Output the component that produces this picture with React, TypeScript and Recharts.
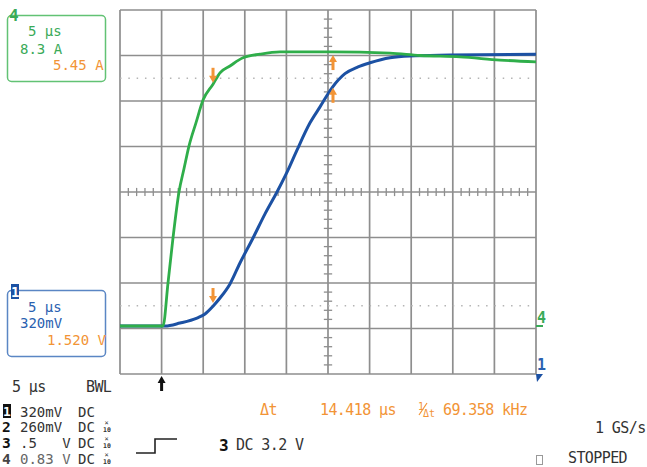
import { LineChart, Line, XAxis, YAxis, ReferenceLine, ReferenceDot } from 'recharts';

// time in µs (5 µs/div), level in screen divisions from the bottom edge
const CH4_TIME = [0, 5.17, 5.77, 6.37, 7.09, 7.69, 8.29, 9.13, 9.98, 11.18, 12.02, 13.22, 14.78, 16.83, 19.23, 25.24, 32.45, 36.06, 40.87, 45.67, 50];
const CH4_LEVEL = [1.055, 1.055, 2.0, 2.99, 4.0, 4.51, 5.01, 5.52, 6.02, 6.37, 6.62, 6.77, 6.95, 7.03, 7.08, 7.08, 7.05, 7.0, 6.97, 6.9, 6.86];

const CH1_TIME = [0, 5.41, 7.21, 9.25, 10.22, 11.18, 12.02, 13.22, 14.42, 15.99, 17.43, 18.87, 20.19, 21.27, 22.84, 24.04, 25.48, 27.04, 28.61, 30.05, 32.45, 34.86, 39.66, 50];
const CH1_LEVEL = [1.055, 1.055, 1.12, 1.23, 1.32, 1.49, 1.67, 1.98, 2.44, 2.99, 3.52, 4.0, 4.48, 4.92, 5.52, 5.87, 6.29, 6.6, 6.75, 6.84, 6.95, 6.99, 7.01, 7.03];

const X_MAJOR = [0, 5, 10, 15, 20, 25, 30, 35, 40, 45, 50];
const Y_MAJOR = [0, 1, 2, 3, 4, 5, 6, 7, 8];
const CURSOR_LEVELS = [6.5, 1.5];

const CURSOR_A = 11.18;
const CURSOR_B = 25.6;
const TRIGGER_T = 5.0;
const CH4_GROUND = 1.055;
const CH1_GROUND = 0;

const GREEN = '#2fae4a';
const GREEN_TXT = '#3aaa58';
const BLUE = '#1c51a3';
const BLUE_TXT = '#2a61b0';
const ORANGE = '#f29436';
const GRID = '#8e8e8e';
const MONO = "'DejaVu Sans Mono', monospace";

const ch4 = CH4_TIME.map((t, i) => ({ t, v: CH4_LEVEL[i] }));
const ch1 = CH1_TIME.map((t, i) => ({ t, v: CH1_LEVEL[i] }));

const minorX = Array.from({ length: 49 }, (_, i) => i + 1).filter(t => t % 5 !== 0);
const minorY = Array.from({ length: 39 }, (_, i) => (i + 1) / 5).filter(v => Math.abs(v - Math.round(v)) > 0.01);

const DownArrow = ({ cx, cy, color = ORANGE }: any) => (
  <g>
    <rect x={cx - 1.5} y={cy - 15} width={3} height={9} fill={color} />
    <polygon points={`${cx - 4},${cy - 7} ${cx + 4},${cy - 7} ${cx},${cy}`} fill={color} />
  </g>
);

const UpArrow = ({ cx, cy, color = ORANGE }: any) => (
  <g>
    <rect x={cx - 1.5} y={cy + 6} width={3} height={9} fill={color} />
    <polygon points={`${cx - 4},${cy + 7} ${cx + 4},${cy + 7} ${cx},${cy}`} fill={color} />
  </g>
);

const T = ({ x, y, c = '#333', s = 15, w = 400, children, ls = -0.6 }: any) => (
  <text x={x} y={y} fill={c} fontSize={s} fontWeight={w} fontFamily={MONO} style={{ letterSpacing: ls, whiteSpace: 'pre' }}>
    {children}
  </text>
);

const X10 = ({ x, y }: any) => (
  <g fontFamily={MONO} fill="#333">
    <text x={x + 0.5} y={y - 7} fontSize={7}>×</text>
    <text x={x - 1} y={y} fontSize={6.5} fontWeight={700}>10</text>
  </g>
);

export default function App() {
  return (
    <div style={{ position: 'absolute', left: 0, top: 0, width: 647, height: 467, background: '#fff' }}>
      <LineChart width={647} height={467} margin={{ top: 10, right: 111, bottom: 93, left: 120 }}>
        <XAxis type="number" dataKey="t" domain={[0, 50]} hide allowDataOverflow />
        <YAxis type="number" dataKey="v" domain={[0, 8]} hide allowDataOverflow />
        {X_MAJOR.map(x => (
          <ReferenceLine key={'gx' + x} x={x} stroke={GRID} strokeWidth={1.7} />
        ))}
        {Y_MAJOR.map(y => (
          <ReferenceLine key={'gy' + y} y={y} stroke={GRID} strokeWidth={1.7} />
        ))}
        {minorX.map(x => (
          <ReferenceLine key={'mx' + x} segment={[{ x, y: 3.91 }, { x, y: 4.09 }]} stroke={GRID} strokeWidth={1.3} />
        ))}
        {minorY.map(y => (
          <ReferenceLine key={'my' + y} segment={[{ x: 24.5, y }, { x: 25.5, y }]} stroke={GRID} strokeWidth={1.3} />
        ))}
        {CURSOR_LEVELS.map(y => (
          <ReferenceLine key={'cl' + y} y={y} stroke="#b4b4b4" strokeWidth={1.5} strokeDasharray="1.5 6.82" />
        ))}
        <Line data={ch1} dataKey="v" type="monotone" stroke={BLUE} strokeWidth={3} dot={false} isAnimationActive={false} />
        <Line data={ch4} dataKey="v" type="monotone" stroke={GREEN} strokeWidth={2.8} dot={false} isAnimationActive={false} />
        <ReferenceDot x={CURSOR_A} y={6.4} ifOverflow="visible" shape={(p: any) => <DownArrow cx={p.cx} cy={p.cy} />} />
        <ReferenceDot x={CURSOR_A} y={1.56} ifOverflow="visible" shape={(p: any) => <DownArrow cx={p.cx} cy={p.cy} />} />
        <ReferenceDot x={CURSOR_B} y={7.01} ifOverflow="visible" shape={(p: any) => <UpArrow cx={p.cx} cy={p.cy} />} />
        <ReferenceDot x={CURSOR_B} y={6.29} ifOverflow="visible" shape={(p: any) => <UpArrow cx={p.cx} cy={p.cy} />} />
        <ReferenceDot
          x={TRIGGER_T}
          y={0}
          ifOverflow="visible"
          shape={(p: any) => <UpArrow cx={p.cx} cy={p.cy + 2} color="#111" />}
        />
        <ReferenceDot
          x={50}
          y={CH4_GROUND}
          ifOverflow="visible"
          shape={(p: any) => (
            <g>
              <text x={p.cx + 1} y={p.cy - 3} fill={GREEN_TXT} fontSize={15} fontWeight={700} fontFamily={MONO}>4</text>
              <line x1={p.cx} x2={p.cx + 7} y1={p.cy} y2={p.cy} stroke={GREEN_TXT} strokeWidth={2} />
            </g>
          )}
        />
        <ReferenceDot
          x={50}
          y={CH1_GROUND}
          ifOverflow="visible"
          shape={(p: any) => (
            <g>
              <text x={p.cx + 1} y={p.cy - 4} fill={BLUE_TXT} fontSize={15} fontWeight={700} fontFamily={MONO}>1</text>
              <polygon points={`${p.cx},${p.cy} ${p.cx + 7},${p.cy} ${p.cx + 1},${p.cy + 8}`} fill={BLUE} />
            </g>
          )}
        />
      </LineChart>

      <svg width={647} height={467} style={{ position: 'absolute', left: 0, top: 0, pointerEvents: 'none' }}>
        {/* channel 4 readout */}
        <rect x={7.5} y={15.5} width={98} height={66} rx={4} fill="none" stroke="#62c274" strokeWidth={1.5} />
        <T x={9} y={21} c={GREEN_TXT} s={16} w={700}>4</T>
        <T x={28} y={36} c={GREEN_TXT} s={14} ls={0}>5 µs</T>
        <T x={20} y={54} c={GREEN_TXT} s={14} ls={0}>8.3 A</T>
        <T x={53} y={70} c={ORANGE} s={14} ls={0}>5.45 A</T>

        {/* channel 1 readout */}
        <rect x={7.5} y={290.5} width={98} height={66} rx={4} fill="none" stroke="#5a86c4" strokeWidth={1.5} />
        <rect x={11} y={284} width={8} height={15} fill={BLUE} />
        <T x={11} y={297} c="#fff" s={14} w={700}>1</T>
        <T x={28} y={312} c={BLUE_TXT} s={14} ls={0}>5 µs</T>
        <T x={20} y={328} c={BLUE_TXT} s={14} ls={0}>320mV</T>
        <T x={47} y={345} c={ORANGE} s={14} ls={0}>1.520 V</T>

        {/* timebase and channel settings */}
        <T x={12} y={392}>5 µs</T>
        <T x={86} y={392}>BWL</T>

        <rect x={3} y={404} width={8} height={14} fill="#111" />
        <T x={3} y={416} c="#fff" s={13} w={700}>1</T>
        <T x={20} y={417} s={14} ls={0}>320mV</T>
        <T x={78} y={417} s={14} ls={0}>DC</T>

        <T x={2} y={432} c="#111" s={14.5} w={700}>2</T>
        <T x={20} y={432} s={14} ls={0}>260mV</T>
        <T x={78} y={432} s={14} ls={0}>DC</T>
        <X10 x={104} y={432} />

        <T x={2} y={448} c="#111" s={14.5} w={700}>3</T>
        <T x={20} y={448} s={14} ls={0}>{'.5\u00a0\u00a0\u00a0V'}</T>
        <T x={78} y={448} s={14} ls={0}>DC</T>
        <X10 x={104} y={448} />

        <T x={2} y={464} c="#444" s={14.5} w={700}>4</T>
        <T x={20} y={464} c="#666" s={14} ls={0}>0.83 V</T>
        <T x={78} y={464} s={14} ls={0}>DC</T>
        <X10 x={104} y={464} />

        {/* trigger */}
        <polyline points="136,453 155,453 155,439 177,439" fill="none" stroke="#222" strokeWidth={1.6} />
        <T x={219} y={451} c="#111" s={16} w={700}>3</T>
        <T x={236} y={450}>DC 3.2 V</T>

        {/* cursor measurement */}
        <T x={260} y={415} c={ORANGE}>Δt</T>
        <T x={320} y={415} c={ORANGE}>14.418 µs</T>
        <text x={418} y={410} fill={ORANGE} fontSize={10} fontFamily={MONO}>1</text>
        <line x1={419} y1={415} x2={427} y2={403} stroke={ORANGE} strokeWidth={1.2} />
        <text x={423} y={417} fill={ORANGE} fontSize={10} fontFamily={MONO}>Δt</text>
        <T x={443} y={415} c={ORANGE}>69.358 kHz</T>

        <T x={595} y={433}>1 GS/s</T>
        <rect x={536.5} y={455.5} width={6} height={9} fill="none" stroke="#999" strokeWidth={1} />
        <T x={568} y={463}>STOPPED</T>
      </svg>
    </div>
  );
}
